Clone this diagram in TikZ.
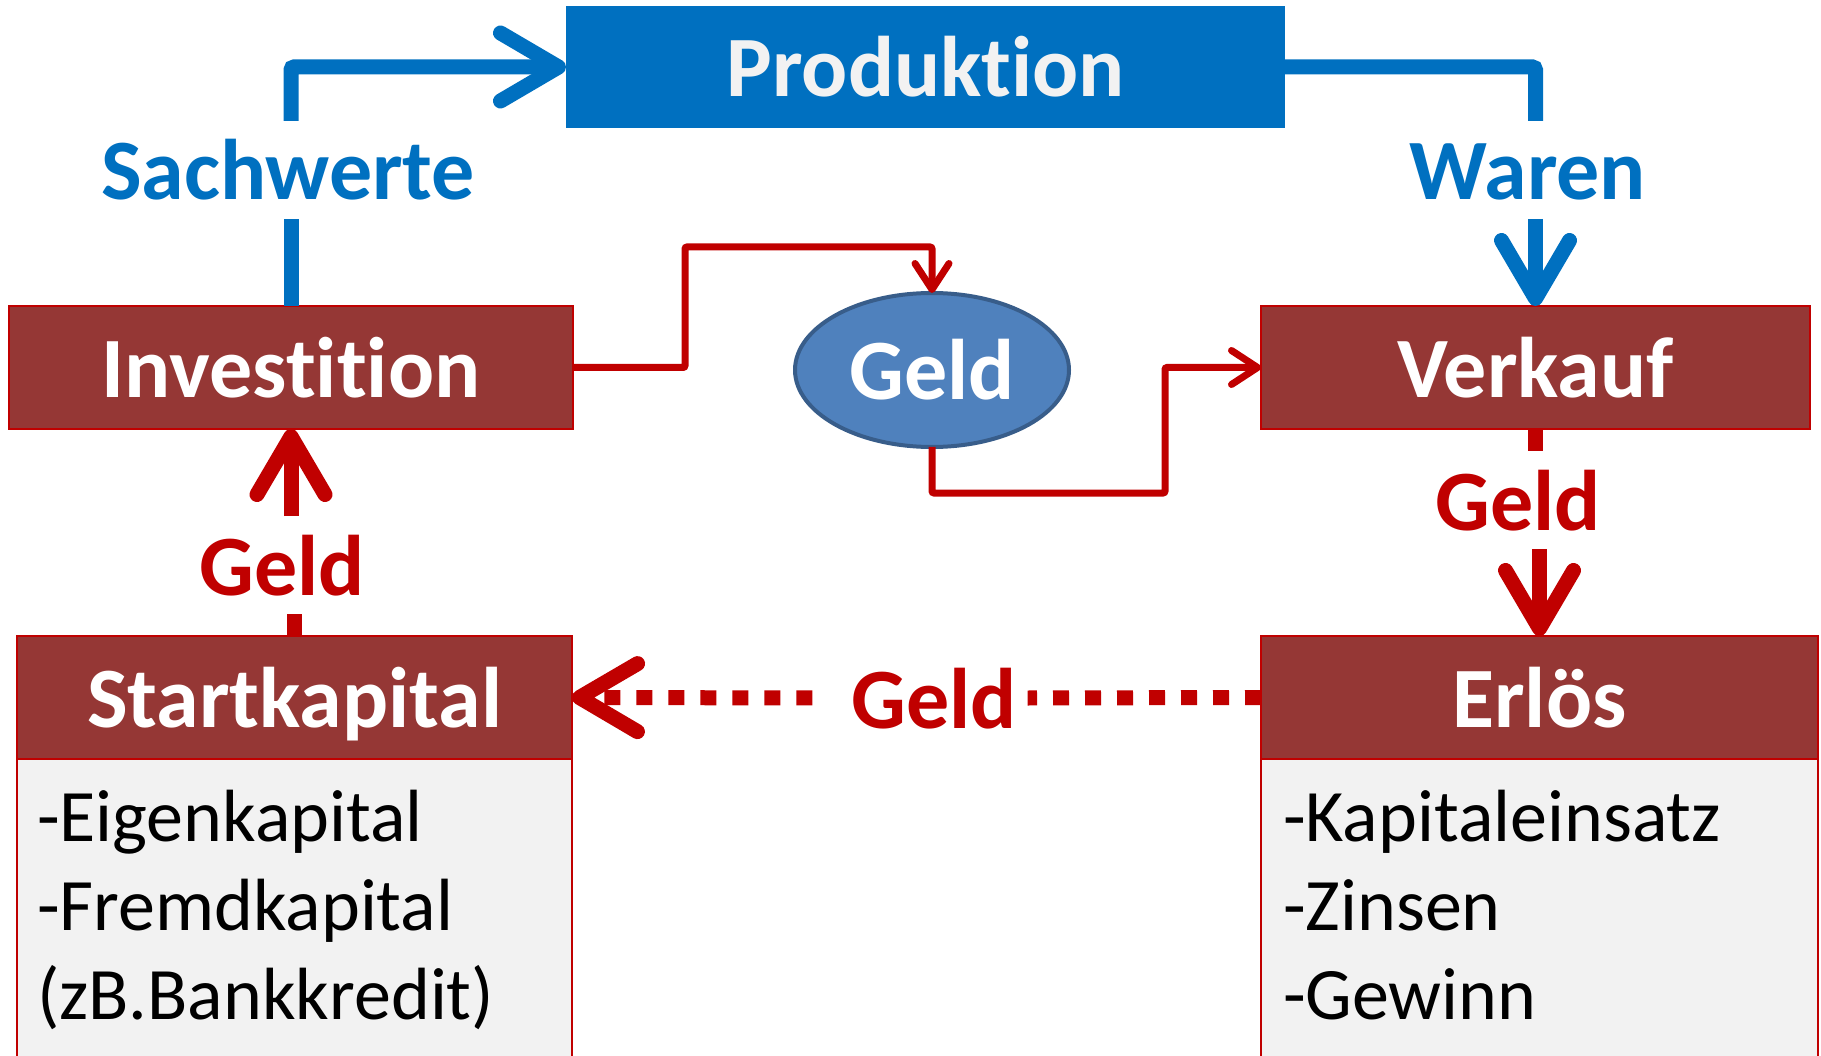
\documentclass[tikz,border=0pt]{standalone}
\usepackage{fontspec}
\setmainfont{Carlito}[Ligatures=NoCommon]
\usetikzlibrary{arrows.meta,shapes.geometric}
\definecolor{prodblue}{HTML}{0070C0}
\definecolor{geldred}{HTML}{C00000}
\definecolor{boxred}{HTML}{953735}
\definecolor{ellblue}{HTML}{4F81BD}
\definecolor{ellborder}{HTML}{385D8A}
\definecolor{listgray}{HTML}{F2F2F2}

\begin{document}
\begin{tikzpicture}[x=1pt,y=-1pt,inner sep=0pt,outer sep=0pt,
big/.style={font=\fontsize{86}{86}\selectfont\bfseries},
bluebox/.style={rectangle,fill=prodblue,text=listgray,minimum width=719pt,minimum height=122pt,text height=60pt,text depth=0pt,big},
redbox/.style={rectangle,draw=geldred,line width=2pt,fill=boxred,text=white,minimum height=123pt,text height=60pt,text depth=0pt,big},
listbox/.style={rectangle,draw=geldred,line width=2pt,fill=listgray,anchor=north,minimum height=320pt},
listtext/.style={font=\fontsize{74}{89}\selectfont,align=left,anchor=north west},
flowlabel/.style={big,anchor=base,inner ysep=19pt,inner xsep=4pt,text height=60pt,text depth=0pt},
bluearrow/.style={draw=prodblue,line width=15pt,rounded corners=3pt},
redarrow/.style={draw=geldred,line width=15pt},
reddots/.style={draw=geldred,line width=15pt,dash pattern=on 16pt off 16pt},
thinred/.style={draw=geldred,line width=7pt,rounded corners=2pt},
bigtip/.style={-{Straight Barb[length=58pt,width=68pt,round]}},
smalltip/.style={-{Straight Barb[length=26pt,width=34pt,round]}}]
\useasboundingbox (0,0) rectangle (1821,1056);
\clip (0,0) rectangle (1821,1056);

% boxes
\draw (925.5,67) node[bluebox] (prod) {Produktion};
\draw (291,367.5) node[redbox,minimum width=564pt] (inv) {Investition};
\draw (1535.5,367.5) node[redbox,minimum width=549pt] (verk) {Verkauf};
\draw (932,370) node[ellipse,draw=ellborder,line width=4pt,fill=ellblue,text=white,minimum width=274pt,minimum height=154pt,big] (geld) {Geld};
\draw (294.5,697.5) node[redbox,minimum width=555pt] (startkap) {Startkapital};
\draw (1539.5,697.5) node[redbox,minimum width=557pt] (erl) {Erlös};
\draw (startkap.south) node[listbox,minimum width=555pt] (startlist) {};
\draw (erl.south) node[listbox,minimum width=557pt] (erllist) {};
\draw (37,790) node[listtext] (startitems) {-Eigenkapital\\-Fremdkapital\\(zB.Bankkredit)};
\draw (1283,790) node[listtext] (erlitems) {-Kapitaleinsatz\\-Zinsen\\-Gewinn};

% labels on the flows
\draw (288,200) node[flowlabel,text=prodblue] (sach) {Sachwerte};
\draw (1528,200) node[flowlabel,text=prodblue] (waren) {Waren};
\draw (282,595) node[flowlabel,text=geldred] (geld1) {Geld};
\draw (1518,530) node[flowlabel,text=geldred] (geld2) {Geld};
\draw (934,728) node[flowlabel,inner xsep=11pt,text=geldred] (geld3) {Geld};

% goods
\draw[bluearrow] (inv.north) -- (inv.north |- sach.south);
\draw[bluearrow,bigtip] (inv.north |- sach.north) |- (prod.west);
\draw[bluearrow] (prod.east) -| (verk.north |- waren.north);
\draw[bluearrow,bigtip] (verk.north |- waren.south) -- (verk.north);

% money
\draw[redarrow] (startkap.north) -- (startkap.north |- geld1.south);
\draw[redarrow,bigtip] (inv.south |- geld1.north) -- (inv.south);
\draw[redarrow] (verk.south) -- (verk.south |- geld2.north);
\draw[redarrow,bigtip] (erl.north |- geld2.south) -- (erl.north);
\draw[reddots] (erl.west) -- (geld3.east);
\draw[reddots,bigtip,shorten <=28pt] (geld3.west) -- (startkap.east);

\coordinate (k1) at (685,247);
\coordinate (k2) at (1165,493);
\draw[thinred,smalltip] (inv.east) -| (k1) -| (geld.north);
\draw[thinred,smalltip] (geld.south) |- (k2) |- (verk.west);
\end{tikzpicture}
\end{document}
